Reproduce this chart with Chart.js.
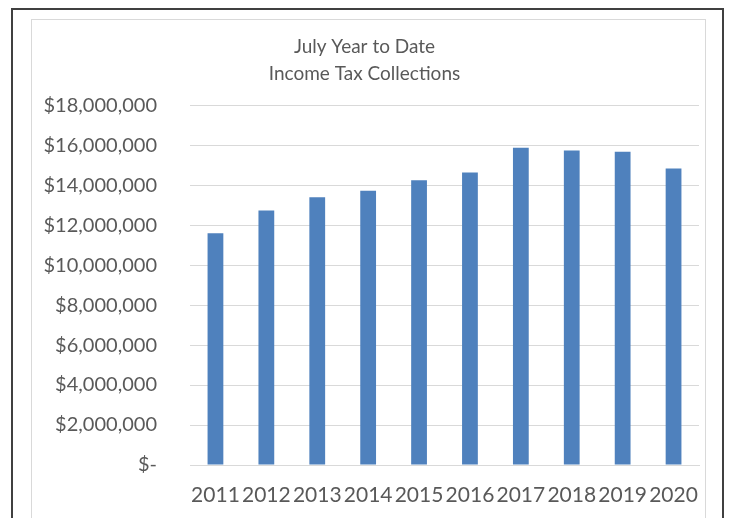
<!DOCTYPE html>
<html>
<head>
<meta charset="utf-8">
<script src="https://cdn.jsdelivr.net/npm/chart.js@4"></script>
<style>
  html, body { margin: 0; padding: 0; background: #fff; }
  #wrap { position: relative; width: 733px; height: 518px; overflow: hidden; }
  #outer { position: absolute; left: 11px; top: 8px; width: 713px; height: 530px; border: 2px solid #404040; box-sizing: border-box; }
  #inner { position: absolute; left: 31px; top: 19px; width: 675px; height: 520px; border: 1px solid #d9d9d9; box-sizing: border-box; }
  canvas { position: absolute; left: 0; top: 0; }
</style>
</head>
<body>
<div id="wrap">
  <div id="outer"></div>
  <div id="inner"></div>
  <canvas id="grafico" width="733" height="518"></canvas>
</div>
<script>
const anios = ["2011", "2012", "2013", "2014", "2015", "2016", "2017", "2018", "2019", "2020"];
const recaudacion = [11600000, 12730000, 13400000, 13720000, 14250000, 14630000, 15870000, 15730000, 15670000, 14830000];
const titulo = ["July Year to Date", "Income Tax Collections"];

const fuente = "'Lato', sans-serif";

const data_itc = {
  labels: anios,
  datasets: [{
    label: "Income Tax Collections",
    data: recaudacion,
    backgroundColor: '#4f81bd',
    borderColor: '#4f81bd',
    borderWidth: 0,
    barPercentage: 0.62,
    categoryPercentage: 0.5
  }]
};

const conf_itc = {
  type: 'bar',
  data: data_itc,
  options: {
    responsive: false,
    animation: false,
    layout: { padding: { left: 30, right: 34, top: 0, bottom: 0 } },
    plugins: {
      legend: { display: false },
      tooltip: { enabled: false },
      title: {
        display: true,
        text: titulo,
        color: '#595959',
        font: { family: fuente, size: 19, weight: 'normal', lineHeight: 1.4 },
        padding: { top: 34, bottom: 18 }
      }
    },
    scales: {
      x: {
        afterFit: function(scale) { scale.height = 53; },
        grid: { display: false, drawTicks: false },
        border: { display: true, color: '#d9d9d9', width: 1 },
        ticks: {
          color: '#595959',
          font: { family: fuente, size: 21 },
          padding: 18,
          maxRotation: 0,
          autoSkip: false
        }
      },
      y: {
        min: 0,
        max: 18000000,
        afterFit: function(scale) { scale.width = 160; },
        grid: { color: '#d9d9d9', lineWidth: 1, drawTicks: false },
        border: { display: false },
        ticks: {
          stepSize: 2000000,
          color: '#595959',
          padding: 33,
          font: { family: fuente, size: 20 },
          callback: function(v) {
            if (v === 0) return "$-";
            return "$" + v.toLocaleString('en-US');
          }
        }
      }
    }
  }
};

const grafico = new Chart(document.getElementById('grafico'), conf_itc);
</script>
</body>
</html>
